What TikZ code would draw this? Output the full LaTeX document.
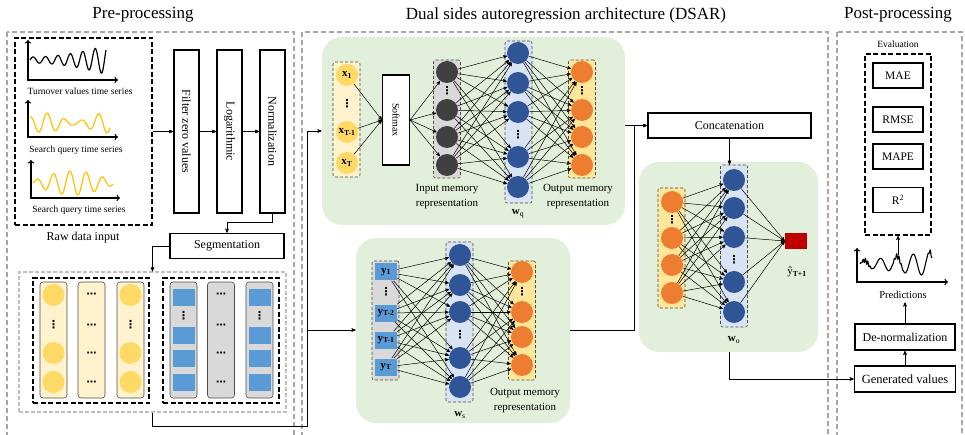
\documentclass[tikz,border=0pt]{standalone}
\usepackage{fontspec}
\setmainfont{Liberation Serif}
\newfontfamily\dotfont{DejaVu Sans}
\usetikzlibrary{arrows,positioning}

\definecolor{panelgray}{HTML}{A6A6A6}
\definecolor{dsgreen}{HTML}{E2EFDA}
\definecolor{paleyellow}{HTML}{FFF2CC}
\definecolor{goldcirc}{HTML}{FFD966}
\definecolor{colgray}{HTML}{D9D9D9}
\definecolor{sqblue}{HTML}{5B9BD5}
\definecolor{darkcirc}{HTML}{404040}
\definecolor{paleblue}{HTML}{DAE3F3}
\definecolor{navycirc}{HTML}{2F5597}
\definecolor{outyellow}{HTML}{FFE699}
\definecolor{orangecirc}{HTML}{ED7D31}
\definecolor{outred}{HTML}{C00000}
\definecolor{curveyellow}{HTML}{FFC000}

\begin{document}
\begin{tikzpicture}[x=1pt,y=-1pt,>=stealth',semithick,
                    every node/.style={font=\fontsize{11}{13}\selectfont}]
  \tikzstyle{outerpanel}=[draw=panelgray,line width=1.1pt,dash pattern=on 5pt off 3pt]
  \tikzstyle{dashgroup}=[draw=black,line width=1.3pt,dash pattern=on 5pt off 2.5pt,inner sep=0]
  \tikzstyle{proc}=[draw=black,line width=1.4pt,fill=white,inner sep=0,font=\fontsize{12}{14}\selectfont]
  \tikzstyle{dspanel}=[fill=dsgreen,rounded corners=20pt,inner sep=0]
  \tikzstyle{netcol}=[draw=black!70,densely dashed,line width=0.6pt,rounded corners=2pt,inner sep=0,minimum width=27]
  \tikzstyle{segcol}=[draw=black!70,line width=0.6pt,rounded corners=3pt,inner sep=0,minimum width=27,minimum height=116]
  \tikzstyle{unit}=[circle,inner sep=0,minimum size=22]
  \tikzstyle{sq}=[fill=sqblue,inner sep=0,minimum width=22,minimum height=17]
  \tikzstyle{vdot}=[inner sep=0,font=\fontsize{11}{11}\selectfont\dotfont\bfseries]
  \tikzstyle{hdot}=[inner sep=0,font=\fontsize{10}{10}\selectfont\dotfont\bfseries]
  \tikzstyle{link}=[->,line width=0.5pt]
  \tikzstyle{chartaxis}=[<->,>=to,line width=1.3pt]
  \tikzstyle{caption}=[font=\fontsize{9.5}{11}\selectfont]
  \tikzstyle{memlabel}=[align=center,font=\fontsize{11}{15}\selectfont]

  \path[use as bounding box,clip] (0,0) rectangle (965,435);

  % titles and panels
  \node[font=\fontsize{17}{20}\selectfont] (pretitle) at (143,15) {Pre-processing};
  \node[font=\fontsize{17}{20}\selectfont] (dsartitle) at (566,15) {Dual sides autoregression architecture (DSAR)};
  \node[font=\fontsize{17}{20}\selectfont] (posttitle) at (898,15) {Post-processing};
  \draw[outerpanel] (7,32) rectangle (294,450);
  \draw[outerpanel] (302,32) rectangle (828,450);
  \draw[outerpanel] (837,32) rectangle (962,450);

  % raw data input
  \draw[chartaxis] (28,40) |- (118,80);
  \draw[line width=1.2pt,domain=0:76,samples=160] plot ({30+\x},{60-(3+0.002*\x*\x)*sin(\x*29)});
  \node[caption] (lblturn) at (80,91) {Turnover values time series};
  \draw[chartaxis] (28,100) |- (118,137);
  \draw[curveyellow,line width=1.2pt,domain=0:80,samples=160] plot ({30+\x},{123-10*cos(\x*21)*(0.6+0.4*cos((\x-15)*6))});
  \node[caption] (lblquery) at (76,150) {Search query time series};
  \draw[chartaxis] (31,160) |- (120,198);
  \draw[curveyellow,line width=1.2pt,domain=0:80,samples=160] plot ({33+\x},{183-(2+10*sin(\x*2.25))*sin(\x*22)});
  \node[caption] (lblquerytwo) at (79,210) {Search query time series};
  \node[dashgroup,minimum width=137,minimum height=187] (rawbox) at (83.5,131.5) {};
  \node[font=\fontsize{12}{14}\selectfont] (rawlbl) at (83,238) {Raw data input};

  \node[proc,rotate=-90,minimum width=163,minimum height=25] (filter) at (186.5,131.5) {Filter zero values};
  \node[proc,rotate=-90,minimum width=163,minimum height=25] (logar) at (229.5,131.5) {Logarithmic};
  \node[proc,rotate=-90,minimum width=163,minimum height=25] (norm) at (272.5,131.5) {Normalization};
  \draw[->] (rawbox) -- (filter);
  \draw[->] (filter) -- (logar);
  \draw[->] (logar) -- (norm);

  \node[proc,minimum width=114,minimum height=25] (seg) at (227,246) {Segmentation};
  \draw[->] (norm.east) -- ++(0,9) -| (seg);

  % segmented windows
  \node[draw=black!25,line width=1.1pt,dash pattern=on 4pt off 2pt,inner sep=0,
        minimum width=267,minimum height=140] (segarea) at (152.5,342) {};
  \draw[->] (seg) -| (segarea);
  \node[dashgroup,minimum width=116,minimum height=125] (turngroup) at (91,340.5) {};
  \node[dashgroup,minimum width=116,minimum height=125] (querygroup) at (221,340.5) {};
  \foreach \cx/\k in {53.5/1,91.5/2,130.5/3}
    \node[segcol,fill=paleyellow] (tcol\k) at (\cx,340) {};
  \foreach \cx/\k in {183.5/1,221/2,259.5/3}
    \node[segcol,fill=colgray] (qcol\k) at (\cx,340) {};
  \foreach \cx/\k in {53.5/1,130.5/3} {
    \node[unit,fill=goldcirc] (tc\k-a) at (\cx,295) {};
    \node[vdot] (tc\k-d) at (\cx,325) {⋮};
    \node[unit,fill=goldcirc] (tc\k-b) at (\cx,353) {};
    \node[unit,fill=goldcirc] (tc\k-c) at (\cx,382) {};
  }
  \foreach \cx/\k in {183.5/1,259.5/3} {
    \node[sq] (qs\k-a) at (\cx,297) {};
    \node[vdot] (qs\k-d) at (\cx,316) {⋮};
    \node[sq] (qs\k-b) at (\cx,335) {};
    \node[sq] (qs\k-c) at (\cx,358) {};
    \node[sq] (qs\k-e) at (\cx,382) {};
  }
  \foreach \cy in {295,326,354,383} {
    \node[hdot] (tdots\cy) at (91.5,\cy) {⋯};
    \node[hdot] (qdots\cy) at (221,\cy) {⋯};
  }

  % feed into DSAR
  \coordinate (busbot) at (307,426);
  \coordinate (bustop) at (307,131);
  \coordinate (busmid) at (307,330);
  \node[dspanel,minimum width=303,minimum height=188] (toppanel) at (473.5,131) {};
  \node[dspanel,minimum width=214,minimum height=185] (botpanel) at (463,330.5) {};
  \node[dspanel,minimum width=179,minimum height=190] (wopanel) at (728.5,257) {};
  \draw (segarea) |- (busbot) -- (bustop);
  \draw[->] (bustop) -- (bustop -| toppanel.west);
  \draw[->] (busmid) -- (busmid -| botpanel.west);

  % query side
  \node[netcol,fill=paleyellow,minimum height=115] (xcol) at (346.5,119.5) {};
  \node[proc,rotate=-90,minimum width=90,minimum height=27,line width=1.2pt,
        font=\fontsize{10}{11}\selectfont] (softmax) at (396,120) {Softmax};
  \node[netcol,fill=colgray,minimum height=118] (imcol) at (447,119) {};
  \node[netcol,fill=paleblue,minimum height=162] (qcol) at (518.5,122) {};
  \node[netcol,fill=outyellow,minimum height=118] (omcol) at (582,119) {};

  \node[unit,fill=goldcirc] (x1) at (347,75) {\textbf{x\textsubscript{1}}};
  \node[vdot] (xd) at (347,104) {⋮};
  \node[unit,fill=goldcirc] (xt1) at (347,132) {\textbf{x\textsubscript{T-1}}};
  \node[unit,fill=goldcirc] (xt) at (347,163) {\textbf{x\textsubscript{T}}};

  \foreach \i/\cy in {1/72,2/110,3/137,4/165} {
    \node[unit,fill=darkcirc] (im\i) at (447,\cy) {};
    \node[unit,fill=orangecirc] (om\i) at (582,\cy) {};
  }
  \node[vdot] (imd) at (447,91) {⋮};
  \node[vdot] (omd) at (582,91) {⋮};
  \foreach \j/\cy in {1/53,2/83,3/112,4/157,5/187}
    \node[unit,fill=navycirc] (q\j) at (518,\cy) {};
  \node[vdot] (qd) at (518,134.5) {⋮};

  \foreach \s in {x1,xt1,xt} \draw[link] (\s) -- (softmax.south);
  \foreach \i in {1,...,4} \draw[link] (softmax.north) -- (im\i);
  \foreach \i in {1,...,4} \foreach \j in {1,...,5} \draw[link] (im\i) -- (q\j);
  \foreach \j in {1,...,5} \foreach \i in {1,...,4} \draw[link] (q\j) -- (om\i);

  \node[memlabel] (imlbl) at (447,197) {Input memory\\representation};
  \node[memlabel] (omlbl) at (578,197) {Output memory\\representation};
  \node (wqlbl) at (518,214) {\textbf{w}\textsubscript{q}};

  % series side
  \node[netcol,fill=colgray,minimum height=119] (ycol) at (385.5,320.5) {};
  \node[netcol,fill=paleblue,minimum height=160] (wscol) at (459.5,322) {};
  \node[netcol,fill=outyellow,minimum height=119] (bocol) at (522,320.5) {};

  \node[sq] (ys1) at (386,272) {\textbf{y\textsubscript{1}}};
  \node[vdot] (ysd) at (386,292) {⋮};
  \node[sq] (ys2) at (386,313) {\textbf{y\textsubscript{T-2}}};
  \node[sq] (ys3) at (386,340) {\textbf{y\textsubscript{T-1}}};
  \node[sq] (ys4) at (386,367) {\textbf{y\textsubscript{T}}};
  \foreach \j/\cy in {1/255,2/285,3/312,4/358,5/387}
    \node[unit,fill=navycirc] (ws\j) at (460,\cy) {};
  \node[vdot] (wsd) at (460,335) {⋮};
  \foreach \i/\cy in {1/272,2/312,3/337,4/365}
    \node[unit,fill=orangecirc] (bo\i) at (522,\cy) {};
  \node[vdot] (bod) at (522,292) {⋮};

  \foreach \i in {1,...,4} \foreach \j in {1,...,5} \draw[link] (ys\i) -- (ws\j);
  \foreach \j in {1,...,5} \foreach \i in {1,...,4} \draw[link] (ws\j) -- (bo\i);

  \node[memlabel] (bolbl) at (525,401) {Output memory\\representation};
  \node (wslbl) at (460,415) {\textbf{w}\textsubscript{s}};

  % concatenation and output layer
  \node[proc,minimum width=163,minimum height=25] (concat) at (729.5,125.5) {Concatenation};
  \coordinate (join) at (634,125.5);
  \draw (botpanel.east |- busmid) -| (join);
  \draw[->] (toppanel.east |- join) -- (concat);

  \node[netcol,fill=outyellow,minimum height=120] (oocol) at (671.5,248) {};
  \node[netcol,fill=paleblue,minimum height=162] (wocol) at (734,246) {};
  \draw[->] (concat) -- (concat |- wocol.north);
  \foreach \i/\cy in {1/202,2/238,3/265,4/293}
    \node[unit,fill=orangecirc] (oo\i) at (672,\cy) {};
  \node[vdot] (ood) at (672,220) {⋮};
  \foreach \j/\cy in {1/180,2/208,3/237,4/282,5/312}
    \node[unit,fill=navycirc] (wo\j) at (734,\cy) {};
  \node[vdot] (wod) at (734,259.5) {⋮};
  \node[fill=outred,inner sep=0,minimum width=22,minimum height=16] (redout) at (796,241) {};

  \foreach \i in {1,...,4} \foreach \j in {1,...,5} \draw[link] (oo\i) -- (wo\j);
  \foreach \j in {1,...,5} \draw[link] (wo\j) -- (redout.west);

  \node (yhat) at (797,272) {ŷ\textsubscript{\textbf{T+1}}};
  \node (wolbl) at (734,340) {\textbf{w}\textsubscript{o}};

  % post-processing
  \node[caption] (evallbl) at (898,44) {Evaluation};
  \node[dashgroup,minimum width=66,minimum height=181] (evalbox) at (898,144.5) {};
  \node[proc,minimum width=50,minimum height=25,font=\fontsize{11.5}{13}\selectfont] (mae) at (898,75.5) {MAE};
  \node[proc,minimum width=50,minimum height=25,font=\fontsize{11.5}{13}\selectfont] (rmse) at (898,119.5) {RMSE};
  \node[proc,minimum width=50,minimum height=25,font=\fontsize{11.5}{13}\selectfont] (mape) at (898,156.5) {MAPE};
  \node[proc,minimum width=50,minimum height=25,font=\fontsize{11.5}{13}\selectfont] (rsq) at (898,200) {R\textsuperscript{2}};

  \draw[chartaxis] (857,248) |- (948,282);
  \draw[line width=1.1pt,domain=0:72,samples=300] plot ({860+\x},{264-(3+0.13*\x)*sin(\x*22)
      -2.5*sin(\x*150)*(exp(-((\x-6)*(\x-6))/15)+exp(-((\x-38)*(\x-38))/15)+exp(-((\x-71)*(\x-71))/6))});
  \coordinate (predtop) at (898,255);
  \draw[->] (predtop) -- (evalbox);
  \node[font=\fontsize{10.5}{12}\selectfont] (predlbl) at (903,295) {Predictions};

  \node[proc,minimum width=100,minimum height=26] (denorm) at (905,337) {De-normalization};
  \node[proc,minimum width=101,minimum height=26,font=\fontsize{12.5}{14}\selectfont] (gen) at (905,379) {Generated values};
  \draw[->] (gen) -- (denorm);
  \draw[->] (denorm) -- (denorm |- predlbl.south);
  \draw[->] (wopanel.south -| concat) |- (gen);
\end{tikzpicture}
\end{document}
